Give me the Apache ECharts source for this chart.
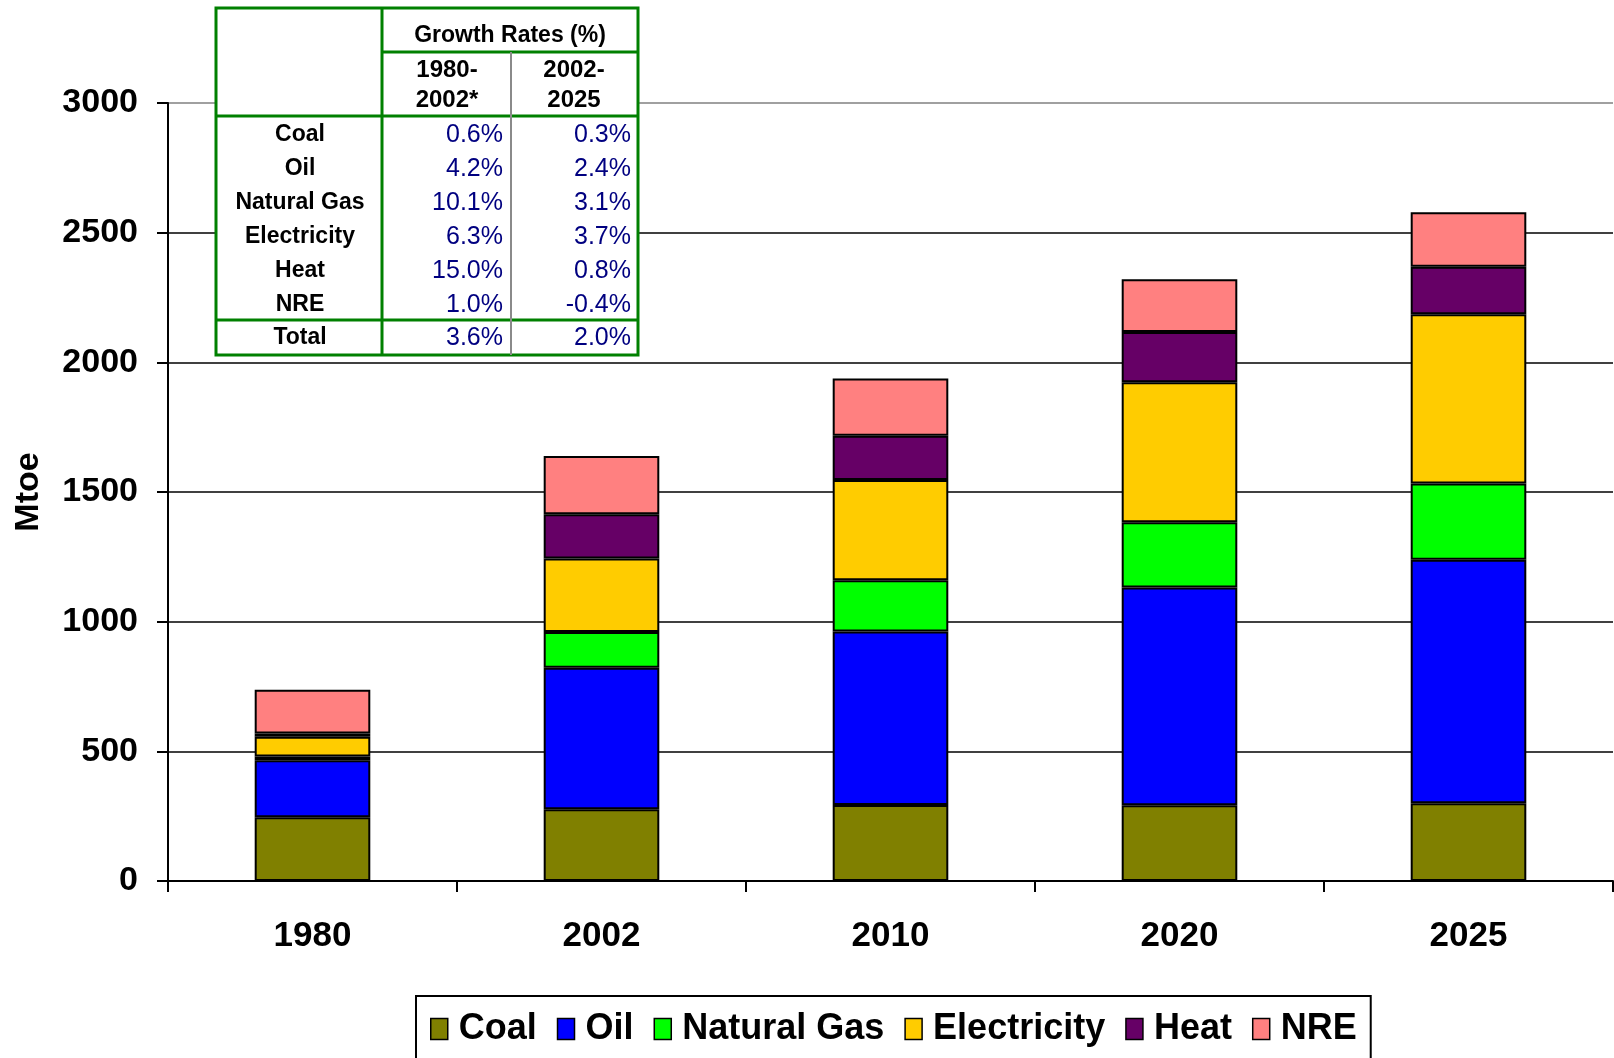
<!DOCTYPE html>
<html>
<head>
<meta charset="utf-8">
<script src="https://cdn.jsdelivr.net/npm/echarts@6/dist/echarts.min.js"></script>
<style>
html,body{margin:0;padding:0;background:#fff;}
#chart{width:1614px;height:1058px;}
</style>
</head>
<body>
<div id="chart"></div>
<script>
var years = ['1980', '2002', '2010', '2020', '2025'];
var seriesNames = ['Coal', 'Oil', 'Natural Gas', 'Electricity', 'Heat', 'NRE'];
var coal = [246, 277, 293, 292, 300];
var oil = [220, 545, 669, 840, 939];
var gas = [14, 138, 198, 251, 294];
var elec = [76, 284, 386, 540, 652];
var heat = [13, 170, 171, 194, 184];
var nre = [168, 225, 221, 203, 210];
var colors = ['#808000', '#0000FF', '#00FF00', '#FFCC00', '#660066', '#FF8080'];

var tableTitle = 'Growth Rates (%)';
var tableHead1 = ['1980-', '2002*'];
var tableHead2 = ['2002-', '2025'];
var tableRows = ['Coal', 'Oil', 'Natural Gas', 'Electricity', 'Heat', 'NRE', 'Total'];
var rates1980 = ['0.6%', '4.2%', '10.1%', '6.3%', '15.0%', '1.0%', '3.6%'];
var rates2002 = ['0.3%', '2.4%', '3.1%', '3.7%', '0.8%', '-0.4%', '2.0%'];

var FONT = '"Liberation Sans", Arial, Helvetica, sans-serif';
var allData = [coal, oil, gas, elec, heat, nre];

var series = seriesNames.map(function (n, i) {
  return {
    name: n,
    type: 'bar',
    stack: 'total',
    barWidth: '40%',
    data: allData[i],
    itemStyle: { color: colors[i], borderColor: '#000', borderWidth: 2 },
    emphasis: { disabled: true }
  };
});

// Table built with graphic elements
var G = '#008000';
var tx0 = 216, tx1 = 382, tx2 = 511, tx3 = 638;
var ty0 = 8, ty1 = 52, ty2 = 116, ty3 = 320, ty4 = 355;
var rowY = [135, 169, 203, 237, 271, 305, 338];
var els = [];
els.push({ type: 'rect', shape: { x: tx0, y: ty0, width: tx3 - tx0, height: ty4 - ty0 }, style: { fill: '#fff', stroke: G, lineWidth: 3 }, z: 100 });
function line(x1, y1, x2, y2, c, w) {
  els.push({ type: 'line', shape: { x1: x1, y1: y1, x2: x2, y2: y2 }, style: { stroke: c, lineWidth: w }, z: 101 });
}
line(tx1, ty0, tx1, ty4, G, 3);
line(tx1, ty1, tx3, ty1, G, 3);
line(tx0, ty2, tx3, ty2, G, 3);
line(tx0, ty3, tx3, ty3, G, 3);
line(tx2, ty1, tx2, ty4, '#8a8a8a', 2);
function txt(s, x, y, align, bold, color, size) {
  els.push({ type: 'text', x: x, y: y, z: 102, style: { text: s, textAlign: align, textVerticalAlign: 'middle', fill: color, font: (bold ? 'bold ' : '') + size + 'px ' + FONT } });
}
txt(tableTitle, (tx1 + tx3) / 2, 36, 'center', true, '#000', 23);
txt(tableHead1[0], 447, 70, 'center', true, '#000', 24);
txt(tableHead1[1], 447, 100, 'center', true, '#000', 24);
txt(tableHead2[0], 574, 70, 'center', true, '#000', 24);
txt(tableHead2[1], 574, 100, 'center', true, '#000', 24);
tableRows.forEach(function (r, i) {
  txt(r, 300, rowY[i], 'center', true, '#000', 23);
  txt(rates1980[i], 503, rowY[i], 'right', false, '#000080', 25);
  txt(rates2002[i], 631, rowY[i], 'right', false, '#000080', 25);
});

var chart = echarts.init(document.getElementById('chart'));
chart.setOption({
  animation: false,
  backgroundColor: '#fff',
  grid: { left: 168, right: 1, top: 103, bottom: 177, containLabel: false },
  legend: {
    data: seriesNames,
    left: 416,
    top: 996,
    padding: [15, 14, 14, 14],
    borderColor: '#000',
    borderWidth: 2,
    itemGap: 20,
    itemWidth: 17,
    itemHeight: 21,
    icon: 'rect',
    itemStyle: { borderColor: '#000', borderWidth: 1.5 },
    textStyle: { fontFamily: FONT, fontWeight: 'bold', fontSize: 36, color: '#000', padding: [0, 0, 0, 6] }
  },
  xAxis: {
    type: 'category',
    data: years,
    axisLine: { lineStyle: { color: '#000', width: 2 } },
    axisTick: { show: true, length: 11, lineStyle: { color: '#000', width: 2 } },
    axisLabel: { fontFamily: FONT, fontWeight: 'bold', fontSize: 35, color: '#000', margin: 38 }
  },
  yAxis: {
    type: 'value',
    min: 0,
    max: 3000,
    interval: 500,
    name: 'Mtoe',
    nameLocation: 'middle',
    nameRotate: 90,
    nameGap: 122,
    nameTextStyle: { fontFamily: FONT, fontWeight: 'bold', fontSize: 34, color: '#000' },
    axisLine: { show: true, lineStyle: { color: '#000', width: 2 } },
    axisTick: { show: true, length: 11, lineStyle: { color: '#000', width: 2 } },
    axisLabel: { fontFamily: FONT, fontWeight: 'bold', fontSize: 34, color: '#000', margin: 30, formatter: function (v) { return String(v); } },
    splitLine: { show: true, lineStyle: { color: ['#000', '#000', '#000', '#000', '#000', '#000', '#808080'], width: 1.5 } }
  },
  series: series,
  graphic: { elements: els }
});
</script>
</body>
</html>
